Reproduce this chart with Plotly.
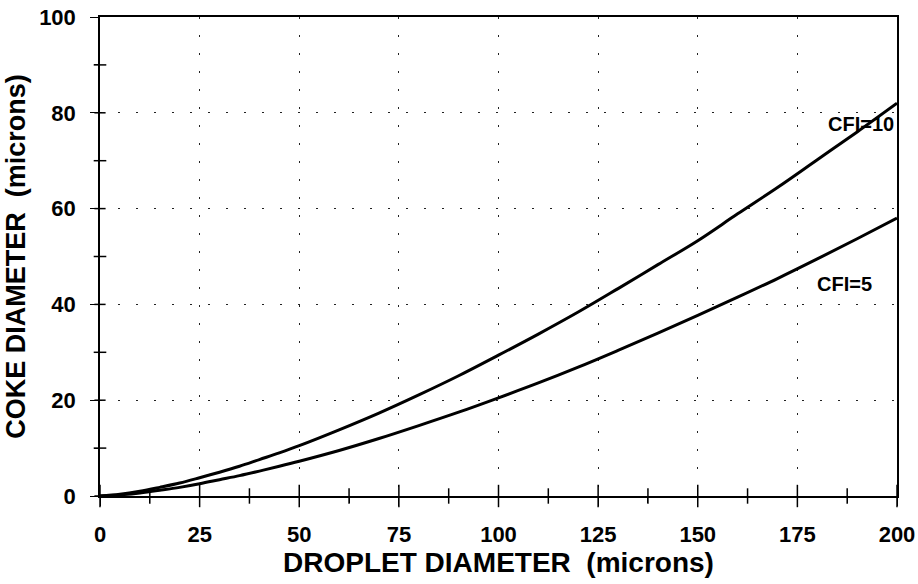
import plotly.graph_objects as go

droplet = [0, 5, 10, 15, 20, 25, 30, 35, 40, 45, 50, 60, 70, 80, 90, 100,
           110, 120, 130, 140, 150, 160, 170, 180, 190, 200]
coke_cfi10 = [0, 0.35, 0.97, 1.8, 2.7, 3.8, 4.95, 6.2, 7.6, 9.0, 10.5, 13.8, 17.3,
              21.1, 25.1, 29.4, 33.8, 38.4, 43.3, 48.3, 53.3, 58.9, 64.4, 70.2, 76.0, 82.0]
coke_cfi5 = [0, 0.23, 0.65, 1.2, 1.8, 2.55, 3.4, 4.25, 5.2, 6.2, 7.25, 9.5, 12.0,
             14.7, 17.5, 20.5, 23.6, 26.9, 30.4, 34.0, 37.7, 41.5, 45.4, 49.5, 53.7, 58.0]
series_labels = ["CFI=10", "CFI=5"]
x_ticks = [0, 25, 50, 75, 100, 125, 150, 175, 200]
x_minor = [12.5, 37.5, 62.5, 87.5, 112.5, 137.5, 162.5, 187.5]
y_ticks = [0, 20, 40, 60, 80, 100]
y_minor = [10, 30, 50, 70, 90]

FONT = "Arial, Liberation Sans, sans-serif"

fig = go.Figure()
for ys in (coke_cfi10, coke_cfi5):
    fig.add_trace(go.Scatter(x=droplet, y=ys, mode="lines",
                             line=dict(color="black", width=3, shape="spline"),
                             showlegend=False, hoverinfo="skip"))


# tick marks that cross the axis lines (inner halves), placed at the tick values
def cross_ticks(xs, ys, symbol, size):
    fig.add_trace(go.Scatter(x=xs, y=ys, mode="markers", cliponaxis=False,
                             marker=dict(symbol=symbol, size=size, color="black",
                                         line=dict(width=1.5, color="black")),
                             showlegend=False, hoverinfo="skip"))


cross_ticks(x_ticks, [0] * len(x_ticks), "line-ns", 16)
cross_ticks(x_minor, [0] * len(x_minor), "line-ns", 11)
cross_ticks([0] * (len(y_ticks) - 1), y_ticks[:-1], "line-ew", 8)
cross_ticks([0] * len(y_minor), y_minor, "line-ew", 9)

fig.add_annotation(x=191, y=77.7, text="<b>" + series_labels[0] + "</b>",
                   showarrow=False, font=dict(family=FONT, size=20, color="black"))
fig.add_annotation(x=186.8, y=44.3, text="<b>" + series_labels[1] + "</b>",
                   showarrow=False, font=dict(family=FONT, size=20, color="black"))

grid = dict(gridcolor="#222", griddash="2px,16px", gridwidth=1.2)

fig.update_layout(
    width=918, height=584,
    margin=dict(l=100, r=21, t=17, b=88),
    paper_bgcolor="white", plot_bgcolor="white",
    font=dict(family=FONT, color="black"),
    showlegend=False,
    xaxis=dict(range=[0, 200], tickvals=x_ticks, ticks="outside", ticklen=8,
               tickwidth=1.3, tickcolor="black", automargin=False,
               ticklabelstandoff=10,
               minor=dict(tickvals=x_minor, ticks="outside", ticklen=5, tickwidth=1.3,
                          tickcolor="black", showgrid=False),
               showline=True, linecolor="black", linewidth=1.5, mirror=True,
               zeroline=False, showgrid=True, **grid,
               tickfont=dict(family=FONT, size=22, color="black", weight="bold"),
               title=dict(text="DROPLET DIAMETER  (microns)", standoff=4,
                          font=dict(family=FONT, size=28, weight="bold"))),
    yaxis=dict(range=[0, 100], tickvals=y_ticks, ticks="outside", ticklen=8,
               tickwidth=1.3, tickcolor="black", automargin=False,
               ticklabelstandoff=10,
               minor=dict(tickvals=y_minor, ticks="outside", ticklen=4, tickwidth=1.3,
                          tickcolor="black", showgrid=False),
               showline=True, linecolor="black", linewidth=1.5, mirror=True,
               zeroline=False, showgrid=True, **grid,
               tickfont=dict(family=FONT, size=22, color="black", weight="bold"),
               title=dict(text="COKE DIAMETER  (microns)", standoff=6,
                          font=dict(family=FONT, size=27, weight="bold"))),
)

fig.write_html("out.html")
